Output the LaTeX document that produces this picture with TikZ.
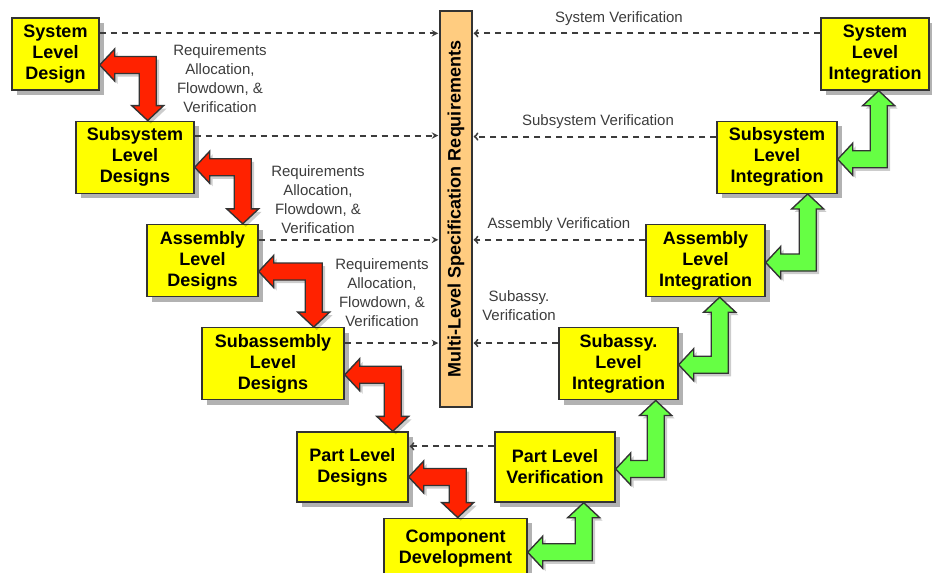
\documentclass[tikz,border=0pt]{standalone}
\usepackage[dvipsnames]{xcolor}
\usepackage{fontspec}
\setmainfont{Liberation Sans}
\usetikzlibrary{positioning,calc,shadows}

\definecolor{boxyellow}{RGB}{255,255,0}
\definecolor{barorange}{RGB}{255,204,128}
\definecolor{downred}{RGB}{255,34,0}
\definecolor{upgreen}{RGB}{102,255,68}
\definecolor{edgegray}{RGB}{51,51,51}
\definecolor{labelgray}{RGB}{60,60,60}

% bent double arrow: colour, sign (1 = down, -1 = up), left tip, vertical tip
\newcommand{\fatarrow}[4]{%
  \path[fat arrow, fill=#1] let \p1=(#3), \p2=(#4) in
    (\p1) -- ({\x1+15pt},{\y1+(#2)*16pt}) -- ({\x1+15pt},{\y1+(#2)*8.5pt})
    -- ({\x2+8.5pt},{\y1+(#2)*8.5pt}) -- ({\x2+8.5pt},{\y2+(#2)*15pt})
    -- ({\x2+16pt},{\y2+(#2)*15pt}) -- (\p2) -- ({\x2-16pt},{\y2+(#2)*15pt})
    -- ({\x2-8.5pt},{\y2+(#2)*15pt}) -- ({\x2-8.5pt},{\y1-(#2)*8.5pt})
    -- ({\x1+15pt},{\y1-(#2)*8.5pt}) -- ({\x1+15pt},{\y1-(#2)*16pt}) -- cycle;}

\begin{document}
\begin{tikzpicture}[x=1pt,y=1pt,>=stealth,shorten >=1pt,auto,node distance=103.25pt,
    level box/.style={rectangle,draw=edgegray,line width=1.4pt,fill=boxyellow,align=center,
        minimum height=72pt,inner sep=2pt,font=\bfseries\fontsize{18}{21}\selectfont,
        drop shadow={shadow xshift=5pt,shadow yshift=-5pt,fill=black,opacity=.3}},
    fat arrow/.style={draw=edgegray,line width=1.4pt,line join=miter,shorten >=0pt,
        drop shadow={shadow xshift=3pt,shadow yshift=-3pt,fill=black,opacity=.2}},
    req label/.style={align=center,text=labelgray,font=\fontsize{15}{19}\selectfont},
    verif/.style={draw=labelgray,line width=1.9pt,dash pattern=on 6pt off 5pt}]

    \useasboundingbox (0,0) rectangle (932,-573);

    % design side
    \node[level box, minimum width=87pt]  (sld) at (55.5,-54) {System\\Level\\Design};
    \node[level box, minimum width=118pt] (ssld) [below of = sld, xshift=79.5] {Subsystem\\Level\\Designs};
    \node[level box, minimum width=111pt] (ald) [below of = ssld, xshift=67.5] {Assembly\\Level\\Designs};
    \node[level box, minimum width=142pt] (sald) [below of = ald, xshift=70.5] {Subassembly\\Level\\Designs};
    \node[level box, minimum width=111pt, minimum height=70pt] (pld) [below of = sald, xshift=79.5] {Part Level\\Designs};
    \node[level box, minimum width=143pt, minimum height=60pt] (cd) [below of = pld, xshift=103, yshift=22] {Component\\Development};

    % integration side
    \node[level box, minimum width=120pt, minimum height=70pt] (plv) [right of = pld, xshift=99.25] {Part Level\\Verification};
    \node[level box, minimum width=119pt] (sali) [above of = plv, xshift=63.5] {Subassy.\\Level\\Integration};
    \node[level box, minimum width=119pt] (ali) [above of = sali, xshift=87] {Assembly\\Level\\Integration};
    \node[level box, minimum width=120pt] (ssli) [above of = ali, xshift=71.5] {Subsystem\\Level\\Integration};
    \node[level box, minimum width=108pt] (sli) [above of = ssli, xshift=98] {System\\Level\\Integration};

    % requirements bar
    \node[draw=edgegray, line width=1.4pt, fill=barorange, minimum width=32pt, minimum height=396pt, inner sep=0pt] (bar) at (456,-209) {};
    \node[rotate=90, font=\bfseries\fontsize{18}{21}\selectfont] (bartext) at (bar.center) {Multi-Level Specification Requirements};

    % labels
    \node[req label] (req1) at (220,-78.5) {Requirements\\Allocation,\\Flowdown, \&\\Verification};
    \node[req label] (req2) at (318,-199.5) {Requirements\\Allocation,\\Flowdown, \&\\Verification};
    \node[req label] (req3) at (382,-292.5) {Requirements\\Allocation,\\Flowdown, \&\\Verification};
    \node[req label] (sysv) at (619,-19) {System Verification};
    \node[req label] (subv) at (598,-122) {Subsystem Verification};
    \node[req label] (assv) at (559,-225) {Assembly Verification};
    \node[req label] (sbav) at (519,-305.5) {Subassy.\\Verification};

    \path
    ([yshift=-16]sld.north east) edge[verif,-stealth] ([yshift=-16]sld.north east -| bar.west)
    ([yshift=-15]ssld.north east) edge[verif,-stealth] ([yshift=-15]ssld.north east -| bar.west)
    ([yshift=-16]ald.north east) edge[verif,-stealth] ([yshift=-16]ald.north east -| bar.west)
    ([yshift=-16]sald.north east) edge[verif,-stealth] ([yshift=-16]sald.north east -| bar.west)

    ([yshift=-16]sli.north west) edge[verif,-to] ([yshift=-16]sli.north west -| bar.east)
    ([yshift=-16]ssli.north west) edge[verif,-to] ([yshift=-16]ssli.north west -| bar.east)
    ([yshift=-16]ali.north west) edge[verif,-to] ([yshift=-16]ali.north west -| bar.east)
    ([yshift=-16]sali.north west) edge[verif,-to] ([yshift=-16]sali.north west -| bar.east)
    ([yshift=-15]plv.north west) edge[verif,-to] ([yshift=-15]plv.north west -| pld.east)
    ;

    % flowdown arrows
    \fatarrow{downred}{1}{[yshift=-11]sld.east}{[xshift=48]sld.east |- ssld.north}
    \fatarrow{downred}{1}{[yshift=-10]ssld.east}{[xshift=48]ssld.east |- ald.north}
    \fatarrow{downred}{1}{[yshift=-11]ald.east}{[xshift=55]ald.east |- sald.north}
    \fatarrow{downred}{1}{[yshift=-11]sald.east}{[xshift=48]sald.east |- pld.north}
    \fatarrow{downred}{1}{[yshift=-10]pld.east}{[xshift=49]pld.east |- cd.north}

    % integration arrows
    \fatarrow{upgreen}{-1}{[yshift=-4]cd.east}{[xshift=56]cd.east |- plv.south}
    \fatarrow{upgreen}{-1}{[yshift=-2]plv.east}{[xshift=40]plv.east |- sali.south}
    \fatarrow{upgreen}{-1}{[yshift=-1]sali.east}{[xshift=41]sali.east |- ali.south}
    \fatarrow{upgreen}{-1}{[yshift=-2]ali.east}{[xshift=42]ali.east |- ssli.south}
    \fatarrow{upgreen}{-1}{[yshift=-2]ssli.east}{[xshift=41]ssli.east |- sli.south}
\end{tikzpicture}
\end{document}
